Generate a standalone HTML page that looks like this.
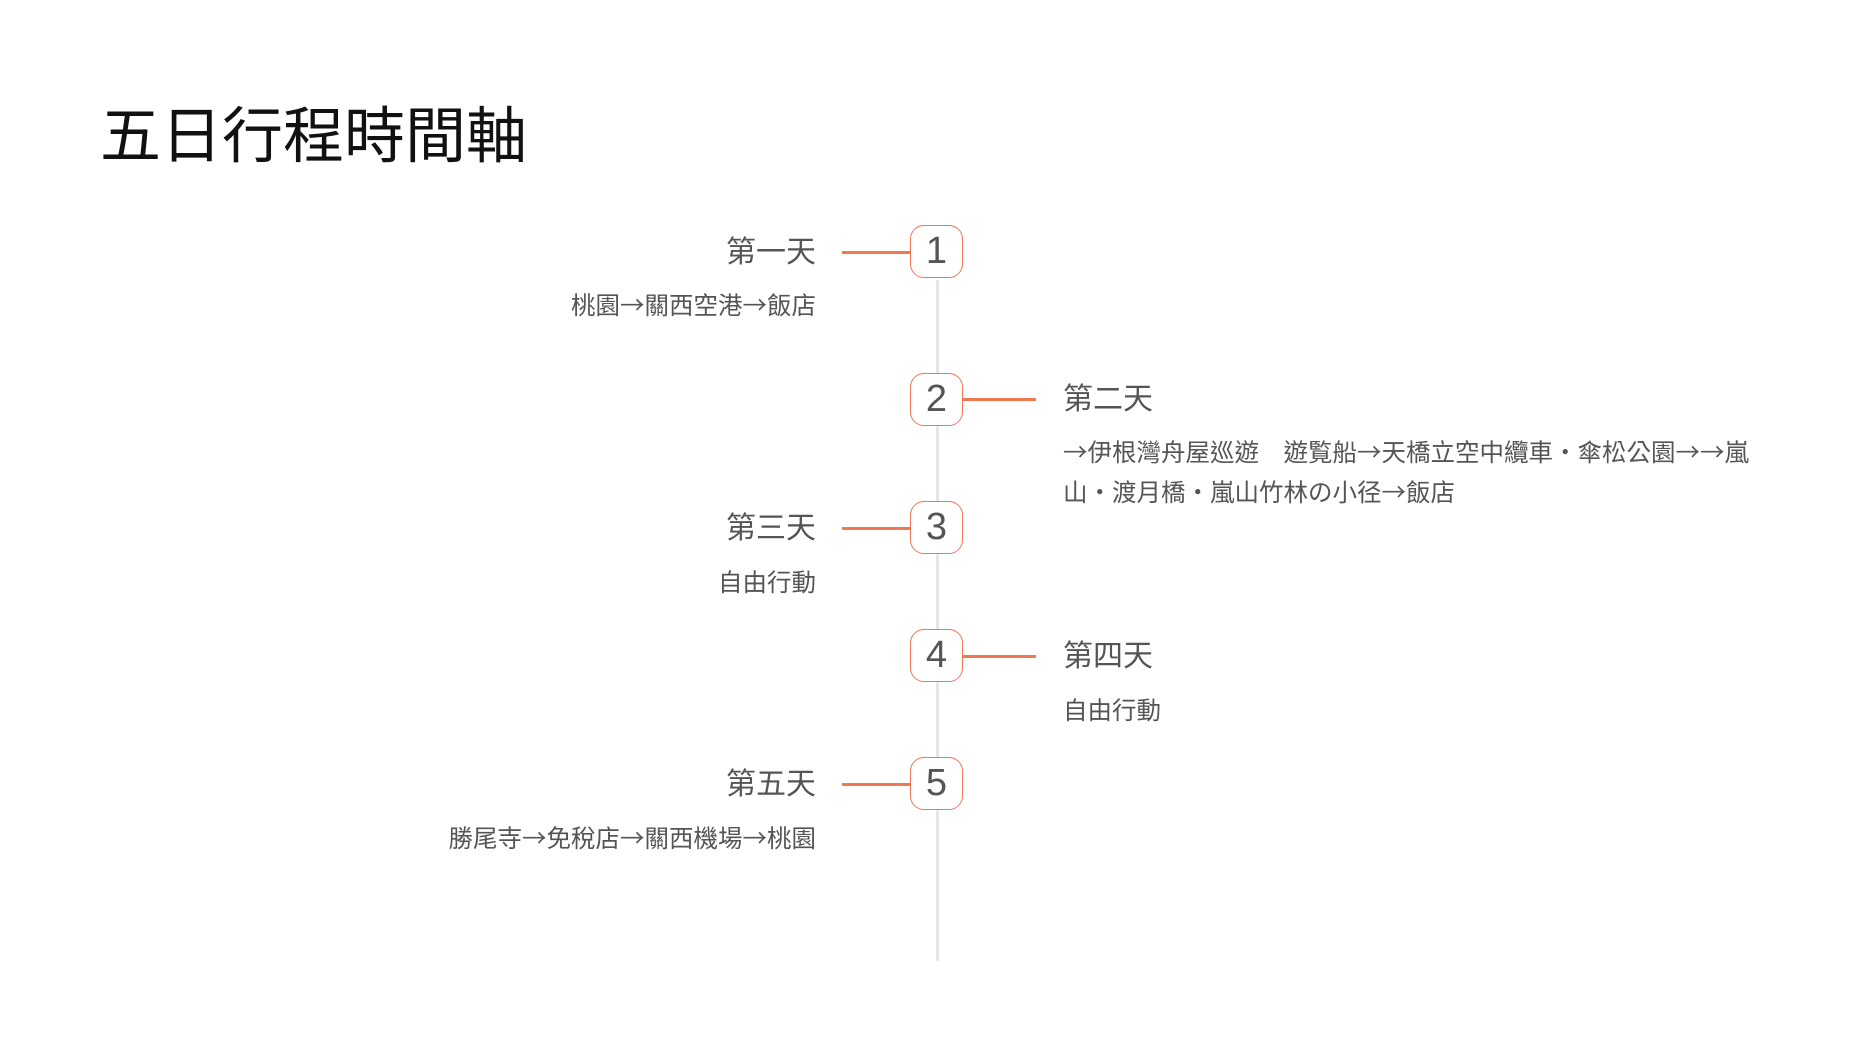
<!DOCTYPE html>
<html><head><meta charset="utf-8"><style>
body{margin:0;width:1875px;height:1057px;background:#fff;position:relative;overflow:hidden;font-family:"Liberation Sans","Noto Sans CJK TC",sans-serif;}
h1{position:absolute;left:100px;top:100px;margin:0;font-size:61px;font-weight:normal;color:#111;line-height:72px;font-family:"Liberation Sans","Noto Sans CJK TC",sans-serif;}
.vl{position:absolute;left:936px;top:280px;width:3px;height:681px;background:#e6e6e6;}
.c{position:absolute;left:910px;width:51px;height:51px;border:1.5px solid #f07850;border-radius:14px;background:#fff;color:#555;font-size:38px;text-align:center;line-height:51px;}
.h{position:absolute;height:3px;background:#f07850;}
.t{position:absolute;font-size:30px;color:#555;line-height:40px;white-space:nowrap;font-family:"Noto Sans CJK TC",sans-serif;}
.d{position:absolute;font-size:24.5px;color:#555;line-height:40px;white-space:nowrap;font-family:"Noto Sans CJK TC",sans-serif;}
.r{text-align:right;right:1059px;}
</style></head><body>
<h1>五日行程時間軸</h1>
<div class="vl"></div>

<div class="h" style="left:842px;width:70px;top:251px"></div>
<div class="c" style="top:225px">1</div>
<div class="t r" style="top:229px">第一天</div>
<div class="d r" style="top:285px">桃園→關西空港→飯店</div>

<div class="h" style="left:962px;width:74px;top:398px"></div>
<div class="c" style="top:373px">2</div>
<div class="t" style="left:1063px;top:376px">第二天</div>
<div class="d" style="left:1063px;top:432px">→伊根灣舟屋巡遊　遊覧船→天橋立空中纜車・傘松公園→→嵐<br>山・渡月橋・嵐山竹林の小径→飯店</div>

<div class="h" style="left:842px;width:70px;top:527px"></div>
<div class="c" style="top:501px">3</div>
<div class="t r" style="top:505px">第三天</div>
<div class="d r" style="top:562px">自由行動</div>

<div class="h" style="left:962px;width:74px;top:655px"></div>
<div class="c" style="top:629px">4</div>
<div class="t" style="left:1063px;top:633px">第四天</div>
<div class="d" style="left:1063px;top:690px">自由行動</div>

<div class="h" style="left:842px;width:70px;top:783px"></div>
<div class="c" style="top:757px">5</div>
<div class="t r" style="top:761px">第五天</div>
<div class="d r" style="top:818px">勝尾寺→免稅店→關西機場→桃園</div>
</body></html>
